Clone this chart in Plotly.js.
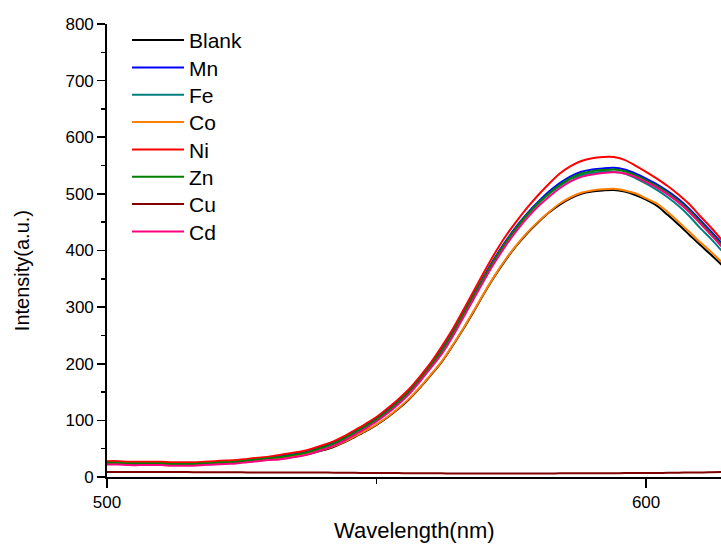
<!DOCTYPE html>
<html>
<head>
<meta charset="utf-8">
<script src="https://cdn.plot.ly/plotly-3.0.1.min.js"></script>
<style>html,body{margin:0;padding:0;background:#fff;}#chart{width:721px;height:545px;}</style>
</head>
<body>
<div id="chart"></div>
<script>
// Wavelength (nm)
const wavelength = [500,502,504,506,508,510,512,514,516,518,520,522,524,526,528,530,532,534,536,538,540,542,544,546,548,550,552,554,556,558,560,562,564,566,568,570,572,574,576,578,580,582,584,586,588,590,592,594,596,598,600,602,604,606,608,610,612,614];

const blank = [24,24,23,23,23,23,22,22,22,23,24,25,26,27,29,31,33,35,38,42,47,53,61,71,81,92,105,120,137,157,179,202,230,260,292,325,356,384,409,431,450,467,481,492,500,504,506,507,504,498,490,479,463,446,428,410,393,375];
const mn = [26,26,25,25,25,25,24,24,24,25,26,27,28,30,32,34,37,40,43,48,54,61,70,81,92,104,118,134,152,174,198,224,254,288,322,356,388,417,443,466,486,504,519,531,539,543,545,546,543,536,527,517,505,491,474,454,434,413];
const fe = [26,26,25,25,25,25,24,24,24,25,26,27,28,30,32,34,34,37,40,45,51,58,67,78,89,101,115,131,149,171,195,221,251,285,319,353,385,414,440,463,483,500,514,526,533,537,539,539,536,528,518,507,494,479,461,440,421,400];
const co = [25,25,24,24,24,24,23,23,23,24,25,26,27,28,30,32,34,36,39,43,48,54,62,72,82,93,106,121,138,158,180,203,231,261,293,326,357,385,410,432,451,468,483,494,502,506,508,509,506,501,492,483,468,451,433,415,398,380];
const ni = [28,28,27,27,27,27,26,26,26,27,28,29,30,32,34,36,39,42,45,50,56,63,72,83,94,106,121,137,155,177,201,229,259,293,328,363,396,426,452,476,498,518,536,549,558,563,565,565,560,550,539,527,514,499,482,461,441,419];
const zn = [25,25,24,24,24,24,23,23,23,24,25,26,27,29,31,33,35,38,41,46,52,59,68,79,90,102,116,132,150,172,196,222,252,286,320,354,386,415,441,464,484,501,516,528,536,540,542,543,540,533,524,514,502,488,471,451,431,410];
const cu = [9,9,9,9,9,9,9,9,8.5,8.5,8.5,8.5,8.5,8,8,8,8,8,8,8,8,7.5,7.5,7.5,7,7,7,7,6.5,6.5,6.5,6.5,6,6,6,6,6,6,6,6,6,6,6.5,6.5,6.5,6.5,6.5,6.5,7,7,7,7,7.5,7.5,8,8,8.5,9];
const cd = [22,22,21,21,21,21,20,20,20,21,22,23,24,26,28,30,31,34,37,42,48,55,64,75,86,98,112,128,146,168,192,216,246,280,314,348,380,409,435,458,478,495,510,522,530,534,537,538,536,530,521,511,499,485,468,448,428,407];

const seriesNames = ['Blank','Mn','Fe','Co','Ni','Zn','Cu','Cd'];
const seriesValues = [blank, mn, fe, co, ni, zn, cu, cd];
const seriesColors = ['#000000','#0000FF','#008080','#FF8000','#FF0000','#008000','#800000','#FF0080'];

const FONT = 'Liberation Sans, Arial, sans-serif';

const traces = seriesNames.map((name, i) => ({
  type: 'scatter',
  mode: 'lines',
  name: name,
  x: wavelength,
  y: seriesValues[i],
  line: {color: seriesColors[i], width: 2, shape: 'spline', smoothing: 0.8},
  legend: i === 0 ? 'legend' : 'legend' + (i + 1)
}));

const layout = {
  width: 721,
  height: 545,
  margin: {l: 107, r: 0, t: 24, b: 68},
  paper_bgcolor: '#ffffff',
  plot_bgcolor: '#ffffff',
  font: {family: FONT, color: '#000000', size: 17},
  showlegend: true,
  xaxis: {
    range: [500, 613.9],
    tickmode: 'linear', tick0: 500, dtick: 100,
    ticks: 'outside', ticklen: 9, tickwidth: 1.6, tickcolor: '#000',
    minor: {dtick: 50, ticks: 'outside', ticklen: 5, tickwidth: 1.6, tickcolor: '#000'},
    showline: true, linecolor: '#000', linewidth: 1.8,
    showgrid: false, zeroline: false,
    tickfont: {family: FONT, size: 17, color: '#000'}
  },
  yaxis: {
    range: [0, 800],
    tickmode: 'linear', tick0: 0, dtick: 100,
    ticks: 'outside', ticklen: 8, tickwidth: 1.6, tickcolor: '#000',
    minor: {dtick: 50, ticks: 'outside', ticklen: 4, tickwidth: 1.6, tickcolor: '#000'},
    showline: true, linecolor: '#000', linewidth: 1.8,
    showgrid: false, zeroline: false,
    tickfont: {family: FONT, size: 17, color: '#000'}
  },
  annotations: [{
    text: 'Intensity(a.u.)', xref: 'paper', yref: 'paper',
    x: -0.138, y: 0.455, xanchor: 'center', yanchor: 'middle',
    textangle: -90, showarrow: false,
    font: {family: FONT, size: 20, color: '#000'}
  }, {
    text: 'Wavelength(nm)', xref: 'paper', yref: 'paper',
    x: 0.5, y: -0.119, xanchor: 'center', yanchor: 'middle',
    showarrow: false,
    font: {family: FONT, size: 22, color: '#000'}
  }]
};

// one legend box per entry so the row spacing matches the reference
const legendTop = 1.009;
const legendStep = 27.33 / 453;
seriesNames.forEach((name, i) => {
  const key = i === 0 ? 'legend' : 'legend' + (i + 1);
  layout[key] = {
    x: 0.0326, y: legendTop - i * legendStep,
    xanchor: 'left', yanchor: 'top',
    bgcolor: 'rgba(0,0,0,0)', borderwidth: 0,
    itemwidth: 52,
    font: {family: FONT, size: 21, color: '#000'}
  };
});

Plotly.newPlot('chart', traces, layout, {displayModeBar: false, staticPlot: true});
</script>
</body>
</html>
